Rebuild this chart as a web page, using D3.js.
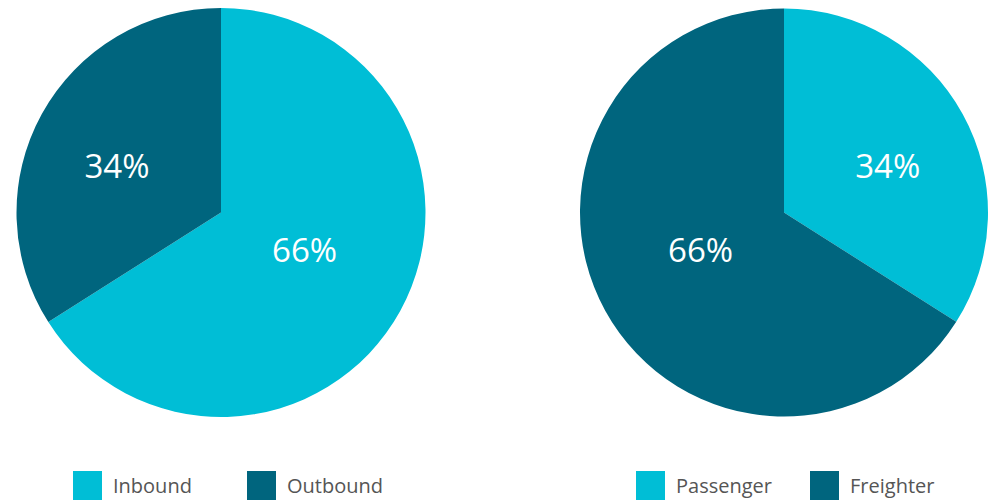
<!DOCTYPE html>
<html>
<head>
<meta charset="utf-8">
<script src="https://cdn.jsdelivr.net/npm/d3@7"></script>
<style>
  body { margin: 0; background: #fff; }
  svg { display: block; }
</style>
</head>
<body>
<div id="chart"></div>
<script>
// left pie: direction of shipments
let directionLabels = ["Inbound", "Outbound"];
let directionValues = [66, 34];
// right pie: aircraft type
let aircraftLabels = ["Passenger", "Freighter"];
let aircraftValues = [34, 66];

let colors = ["#00bed6", "#00657e"];

let width = 989, height = 500;
let svg = d3.select("#chart").append("svg")
    .attr("width", width)
    .attr("height", height);

function drawPie(labels, values, cx, cy, radius, legendX){
    let total = d3.sum(values);
    let cScale = d3.scaleOrdinal().domain(labels).range(colors);
    let pie = d3.pie().sort(null).value(d => d.value);
    let arcs = pie(labels.map((l, i) => ({label: l, value: values[i]})));
    let arc = d3.arc().innerRadius(0).outerRadius(radius);

    let g = svg.append("g").attr("transform", "translate(" + [cx, cy] + ")");
    g.selectAll("path")
        .data(arcs)
        .enter()
        .append("path")
        .attr("d", arc)
        .attr("fill", d => cScale(d.data.label));

    g.selectAll("text")
        .data(arcs)
        .enter()
        .append("text")
        .attr("transform", d => {
            let share = d.data.value / total;
            let lr = radius * (0.701 - 0.355 * share);
            let a = (d.startAngle + d.endAngle) / 2;
            return "translate(" + [Math.sin(a) * lr, -Math.cos(a) * lr * 0.82] + ")";
        })
        .attr("text-anchor", "middle")
        .attr("dy", "0.36em")
        .style("font-family", "'Open Sans', sans-serif")
        .style("font-size", "33px")
        .style("fill", "#fff")
        .text(d => Math.round(d.data.value / total * 100) + "%");

    // legend
    let legend = svg.append("g").attr("transform", "translate(" + [legendX, 471] + ")");
    let item = legend.selectAll("g")
        .data(labels)
        .enter()
        .append("g")
        .attr("transform", (d, i) => "translate(" + [i * 174, 0] + ")");
    item.append("rect")
        .attr("width", 29)
        .attr("height", 29)
        .attr("fill", d => cScale(d));
    item.append("text")
        .attr("x", 40)
        .attr("y", 22)
        .style("font-family", "'Open Sans', sans-serif")
        .style("font-size", "20px")
        .style("fill", "#555")
        .text(d => d);
}

drawPie(directionLabels, directionValues, 221, 212.5, 204.5, 73);
drawPie(aircraftLabels, aircraftValues, 784, 212.5, 204, 636);
</script>
</body>
</html>
